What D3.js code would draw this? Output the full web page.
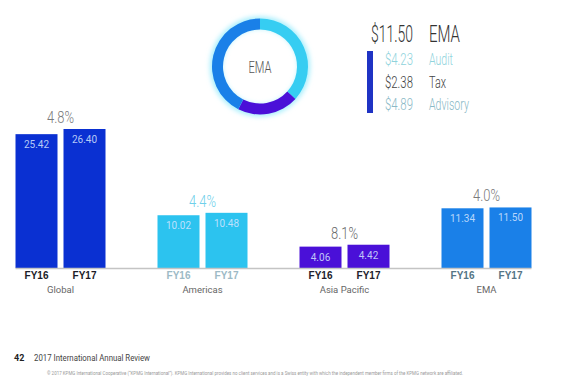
<!DOCTYPE html>
<meta charset="utf-8">
<head>
  <title>KPMG revenue by region</title>
</head>

<style>
body { margin: 0; background: #fff; }
svg { font-family: Roboto, "Liberation Sans", sans-serif; }
.thin { font-weight: 300; }
.fy { font-family: "Liberation Sans", Arial, sans-serif; font-weight: bold; font-size: 10px; }
.grp { font-size: 9.5px; fill: #666; }
</style>

<body>
  <svg width="563" height="390"></svg>

  <script src="https://cdn.jsdelivr.net/npm/d3@7"></script>
  <script>
// bar data
var regions = ["Global", "Americas", "Asia Pacific", "EMA"];
var years = ["FY16", "FY17"];
var fy16 = [25.42, 10.02, 4.06, 11.34];
var fy17 = [26.40, 10.48, 4.42, 11.50];
var growth = ["4.8%", "4.4%", "8.1%", "4.0%"];

// donut data (EMA FY17 split)
var services = ["Audit", "Tax", "Advisory"];
var serviceValues = [4.23, 2.38, 4.89];
var emaTotal = 11.50;

var barColors = ["#0a30d2", "#2cc3ef", "#4a10d8", "#1a80e8"];
var pctColors = ["#7a7a7a", "#6fd0ea", "#6a6a6a", "#7a7a7a"];
var fyColors = ["#1c1c28", "#9dbac6", "#22222c", "#557585"];
var sliceColors = ["#36cdf2", "#4a10d8", "#1a80e8"];

var svg = d3.select("svg");

// squeeze a text horizontally to a target width (condensed look)
function squeeze(parent, x, y, w, str, size, color, anchor) {
  var g = parent.append("g");
  var t = g.append("text")
    .attr("class", "thin")
    .attr("font-size", size)
    .attr("fill", color)
    .attr("text-anchor", anchor || "start")
    .text(str);
  var k = w / t.node().getComputedTextLength();
  g.attr("transform", "translate(" + x + "," + y + ") scale(" + k + ",1)");
  return t;
}

var x0 = d3.scaleBand().domain(regions).range([-10.5, 557.5]);
var x1 = d3.scaleBand().domain(years).range([26, 116]).paddingInner(0.125);
var y = d3.scaleLinear().domain([0, 26.4]).range([268, 129]);

var groups = svg.selectAll("g.region")
  .data(regions)
  .enter()
  .append("g")
  .attr("class", "region")
  .attr("transform", function(d) { return "translate(" + x0(d) + ",0)"; });

groups.each(function(region, i) {
  var g = d3.select(this);
  var vals = [fy16[i], fy17[i]];

  g.selectAll("rect")
    .data(vals)
    .enter()
    .append("rect")
    .attr("x", function(d, j) { return x1(years[j]); })
    .attr("y", function(d) { return y(d); })
    .attr("width", x1.bandwidth())
    .attr("height", function(d) { return y(0) - y(d); })
    .attr("fill", barColors[i]);

  g.selectAll("text.val")
    .data(vals)
    .enter()
    .append("text")
    .attr("class", "val")
    .attr("x", function(d, j) { return x1(years[j]) + x1.bandwidth() / 2; })
    .attr("y", function(d) { return y(d) + 14; })
    .attr("text-anchor", "middle")
    .attr("font-size", 10)
    .attr("fill", "#d8e6ff")
    .attr("fill-opacity", 0.85)
    .text(function(d) { return d.toFixed(2); });

  g.selectAll("text.fy")
    .data(years)
    .enter()
    .append("text")
    .attr("class", "fy")
    .attr("x", function(d) { return x1(d) + x1.bandwidth() / 2; })
    .attr("y", 279)
    .attr("text-anchor", "middle")
    .attr("fill", fyColors[i])
    .text(function(d) { return d; });

  g.append("text")
    .attr("class", "grp")
    .attr("x", x0.bandwidth() / 2)
    .attr("y", 293)
    .attr("text-anchor", "middle")
    .text(region);

  squeeze(g, x0.bandwidth() / 2, y(d3.max(vals)) - 6, 27, growth[i], 16, pctColors[i], "middle");
});

// baseline
svg.append("line")
  .attr("x1", x0("Global") + x1("FY16"))
  .attr("x2", x0("EMA") + x1("FY17") + x1.bandwidth())
  .attr("y1", y(0) + 0.5)
  .attr("y2", y(0) + 0.5)
  .attr("stroke", "#c4c4c4")
  .attr("stroke-width", 1.5);

// donut
var defs = svg.append("defs");
defs.append("filter").attr("id", "glow")
  .attr("x", "-30%").attr("y", "-30%").attr("width", "160%").attr("height", "160%")
  .append("feGaussianBlur").attr("stdDeviation", 2.5);

var donut = svg.append("g").attr("transform", "translate(260,66.5)");
donut.append("circle")
  .attr("r", 44)
  .attr("fill", "none")
  .attr("stroke", "#a6eefc")
  .attr("stroke-width", 12)
  .attr("filter", "url(#glow)");

var pie = d3.pie().sort(null);
var arc = d3.arc().innerRadius(37).outerRadius(48);
donut.selectAll("path")
  .data(pie(serviceValues))
  .enter()
  .append("path")
  .attr("d", arc)
  .attr("fill", function(d, i) { return sliceColors[i]; });

squeeze(donut, 0, 6, 23, "EMA", 17, "#555", "middle");

// legend on the right
var legend = svg.append("g");
squeeze(legend, 371, 42, 42, "$" + emaTotal.toFixed(2), 24, "#333");
squeeze(legend, 429, 42, 31, "EMA", 24, "#333");

legend.append("rect")
  .attr("x", 367).attr("y", 51)
  .attr("width", 6).attr("height", 62)
  .attr("fill", "#1f33c4");

var legColors = ["#8fd3dc", "#444", "#8ab9c6"];
var legWords = [24, 17, 40];
serviceValues.forEach(function(v, i) {
  squeeze(legend, 385, 65 + i * 22.5, 28, "$" + v.toFixed(2), 17, legColors[i]);
  squeeze(legend, 429, 65 + i * 22.5, legWords[i], services[i], 17, legColors[i]);
});

// footer
svg.append("text")
  .attr("x", 14).attr("y", 361)
  .attr("font-size", 9)
  .attr("font-weight", "bold")
  .attr("fill", "#222")
  .text("42");
svg.append("text")
  .attr("x", 34).attr("y", 361)
  .attr("font-size", 9.5)
  .attr("textLength", 116)
  .attr("lengthAdjust", "spacingAndGlyphs")
  .attr("fill", "#444")
  .text("2017 International Annual Review");
svg.append("text")
  .attr("x", 47).attr("y", 375)
  .attr("font-size", 4.5)
  .attr("textLength", 416)
  .attr("lengthAdjust", "spacingAndGlyphs")
  .attr("fill", "#999")
  .text("\u00a9 2017 KPMG International Cooperative (\u201cKPMG International\u201d). KPMG International provides no client services and is a Swiss entity with which the independent member firms of the KPMG network are affiliated.");
  </script>
</body>
</html>
